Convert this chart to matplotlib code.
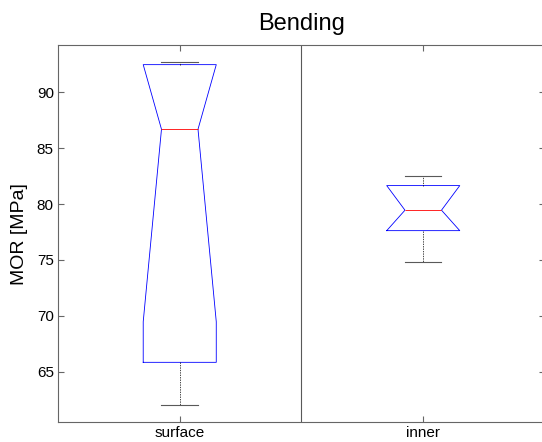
import matplotlib.pyplot as plt

plt.rcParams['font.family'] = ['Liberation Sans', 'DejaVu Sans']

# five-number summaries per specimen location (MPa)
groups = ['surface', 'inner']
medians = [86.69, 79.45]
q1s = [65.84, 77.62]
q3s = [92.47, 81.65]
notch_lo = [69.47, 77.62]
notch_hi = [92.47, 81.65]
whisk_lo = [62.02, 74.85]
whisk_hi = [92.68, 82.51]

stats = []
for i, name in enumerate(groups):
    stats.append({'label': name, 'med': medians[i], 'q1': q1s[i], 'q3': q3s[i],
                  'cilo': notch_lo[i], 'cihi': notch_hi[i],
                  'whislo': whisk_lo[i], 'whishi': whisk_hi[i], 'fliers': []})

fig = plt.figure(figsize=(5.42, 4.42), dpi=100)
ax = fig.add_axes([0.107, 0.0452, 0.8985, 0.8523])

ax.bxp(stats, positions=[1, 2], widths=0.3, shownotches=True, showfliers=False,
       boxprops=dict(color='blue', linewidth=0.6),
       medianprops=dict(color='red', linewidth=0.6, zorder=3),
       whiskerprops=dict(color='black', linewidth=0.5, linestyle=(0, (2, 1.5))),
       capprops=dict(color='0.35', linewidth=0.8))

# separator between the two groups
ax.axvline(1.5, color='0.35', linewidth=0.8)

ax.set_xlim(0.5, 2.5)
ax.set_ylim(60.5, 94.2)
ax.set_yticks([65, 70, 75, 80, 85, 90])
ax.set_xticks([1, 2])
ax.set_xticklabels(groups)

for s in ax.spines.values():
    s.set_color('0.4')
    s.set_linewidth(0.8)
ax.tick_params(direction='in', length=4, color='0.4', labelsize=11,
               top=True, right=True, pad=3)

ax.set_ylabel('MOR [MPa]', fontsize=14, labelpad=6)
ax.set_title('Bending', fontsize=17, pad=11)

fig.savefig('out.png', dpi=100)
